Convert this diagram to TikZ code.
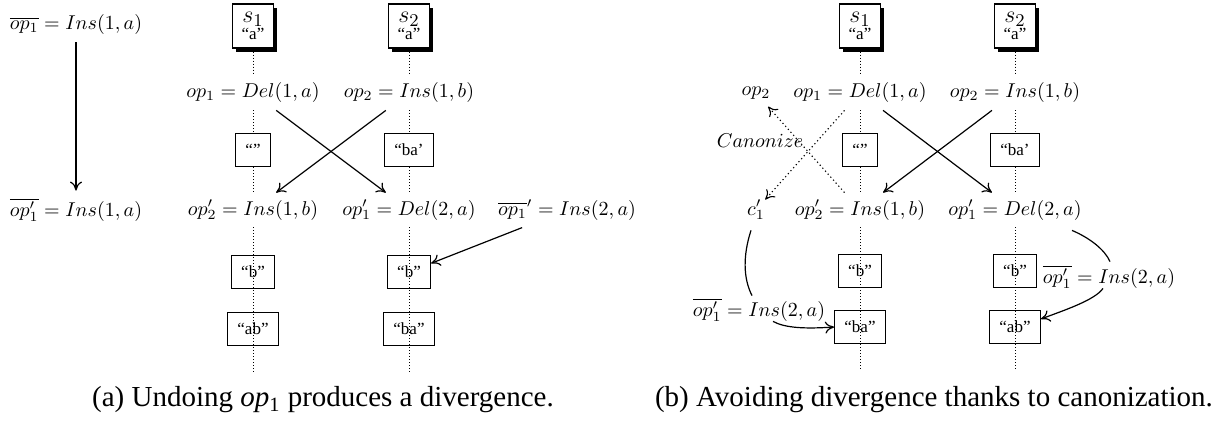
\documentclass[tikz,border=0pt]{standalone}
\usepackage[no-math]{fontspec}
\newfontfamily\timesf{Liberation Serif}
\usetikzlibrary{arrows.meta,shadows,calc}
\newcommand{\sname}[1]{$s_{\mbox{\fontsize{9}{9}\selectfont #1}}$\\[-3.2pt]{\timesf\fontsize{8.5}{9}\selectfont “a”}}
\begin{document}
\begin{tikzpicture}[x=0.5pt,y=-0.5pt,
  lbl/.style={inner xsep=0pt, inner ysep=3.5pt, font=\fontsize{10}{12}\selectfont},
  sbox/.style={draw, fill=white, line width=0.65pt, minimum width=20.5pt, minimum height=22pt,
    inner sep=0pt, align=center, font=\fontsize{12}{12}\selectfont,
    drop shadow={shadow xshift=1.8pt, shadow yshift=-1.8pt, fill=black, opacity=1}},
  strbox/.style={draw, line width=0.65pt, inner xsep=4.85pt, inner ysep=0pt, minimum height=16.5pt,
    font=\timesf\fontsize{8.5}{9}\selectfont},
  dotl/.style={line width=0.5pt, dash pattern=on 0.5pt off 1pt},
  arr/.style={line width=0.6pt, -{Computer Modern Rightarrow[length=4.5pt,width=6pt]}},
  dotarr/.style={line width=0.55pt, dash pattern=on 0.6pt off 1.4pt,
    -{Computer Modern Rightarrow[length=4.5pt,width=6pt]}},
  captext/.style={font=\timesf\fontsize{14.5}{17}\selectfont}
]
\useasboundingbox (0,0) rectangle (1223,427);

% ---------------- panel (a) ----------------
\node[lbl] (Ltop) at (76,25) {$\overline{op_1} = Ins(1,a)$};
\node[lbl] (Lbot) at (76,210) {$\overline{op'_1} = Ins(1,a)$};
\draw[arr] (Ltop) -- (Lbot);

\node[sbox] (as1) at (253,26) {\sname{1}};
\node[sbox] (as2) at (409,26) {\sname{2}};
\node[lbl] (aop1) at (253,93) {$op_1 = Del(1,a)$};
\node[lbl] (aop2) at (409,93) {$op_2 = Ins(1,b)$};
\node[strbox] (am1) at (253,150) {“”};
\node[strbox] (am2) at (409,150) {“ba’};
\node[lbl] (aop2p) at (253,210) {$op'_2 = Ins(1,b)$};
\node[lbl] (aop1p) at (409,210) {$op'_1 = Del(2,a)$};
\node[lbl] (aundo) at (567,210) {$\overline{op_1}' = Ins(2,a)$};
\node[strbox] (ab1) at (253,272) {“b”};
\node[strbox] (ab2) at (409,272) {“b”};
\node[strbox] (ac1) at (253,329) {“ab”};
\node[strbox] (ac2) at (409,329) {“ba”};
\coordinate (ae1) at (253,372);
\coordinate (ae2) at (409,372);

\draw[dotl] (as1) -- (aop1);
\draw[dotl] (aop1) -- (am1);
\draw[dotl] (am1) -- (aop2p);
\draw[dotl] (aop2p) -- (ae1);
\draw[dotl] (as2) -- (aop2);
\draw[dotl] (aop2) -- (am2);
\draw[dotl] (am2) -- (aop1p);
\draw[dotl] (aop1p) -- (ae2);

\draw[arr] (aop1) -- (aop1p);
\draw[arr] (aop2) -- (aop2p);
\draw[arr] (aundo) -- (ab2);

\node[captext] (capa) at (323,400) {(a) Undoing {\itshape op}\textsubscript{1} produces a divergence.};

% ---------------- panel (b) ----------------
\node[sbox] (bs1) at (860,26) {\sname{1}};
\node[sbox] (bs2) at (1015,26) {\sname{2}};
\node[lbl] (bo2) at (756,93) {$op_2$};
\node[lbl] (bop1) at (860,93) {$op_1 = Del(1,a)$};
\node[lbl] (bop2) at (1015,93) {$op_2 = Ins(1,b)$};
\node[strbox] (bm1) at (860,150) {“”};
\node[strbox] (bm2) at (1015,150) {“ba’};
\node[lbl] (bc1) at (756,210) {$c'_1$};
\node[lbl] (bop2p) at (860,210) {$op'_2 = Ins(1,b)$};
\node[lbl] (bop1p) at (1015,210) {$op'_1 = Del(2,a)$};
\node[strbox] (bb1) at (860,271) {“b”};
\node[strbox] (bb2) at (1015,271) {“b”};
\node[strbox] (bx1) at (860,327) {“ba”};
\node[strbox] (bx2) at (1015,327) {“ab”};
\node[lbl] (bl1) at (759,310) {$\overline{op'_1} = Ins(2,a)$};
\node[lbl] (bl2) at (1109,277) {$\overline{op'_1} = Ins(2,a)$};
\node[inner sep=0pt, font=\fontsize{10}{12}\selectfont] (canon) at (760,141) {$Canonize$};
\coordinate (be1) at (860,370);
\coordinate (be2) at (1015,370);

\draw[dotl] (bs1) -- (bop1);
\draw[dotl] (bop1) -- (bm1);
\draw[dotl] (bm1) -- (bop2p);
\draw[dotl] (bop2p) -- (be1);
\draw[dotl] (bs2) -- (bop2);
\draw[dotl] (bop2) -- (bm2);
\draw[dotl] (bm2) -- (bop1p);
\draw[dotl] (bop1p) -- (be2);

\draw[dotarr] (bop1) -- (bc1);
\draw[dotarr] (bop2p) -- (bo2);
\draw[arr] (bop1) -- (bop1p);
\draw[arr] (bop2) -- (bop2p);

\draw[line width=0.6pt] ($(bc1.south)+(-5,3)$) .. controls (743,255) and (743,278) .. ($(bl1.north)+(-7,5)$);
\draw[arr] ($(bl1.south)+(14,-8)$) .. controls (785,328) and (805,329) .. (bx1.west);
\draw[line width=0.6pt] ($(bop1p.south east)+(-10,3)$) .. controls (1090,238) and (1105,250) .. ($(bl2.north)+(1,4)$);
\draw[arr] ($(bl2.south)+(-6,-8)$) .. controls (1095,300) and (1065,310) .. ($(bx2.east)+(0,-8)$);

\node[captext] (capb) at (934,400) {(b) Avoiding divergence thanks to canonization.};
\end{tikzpicture}
\end{document}
